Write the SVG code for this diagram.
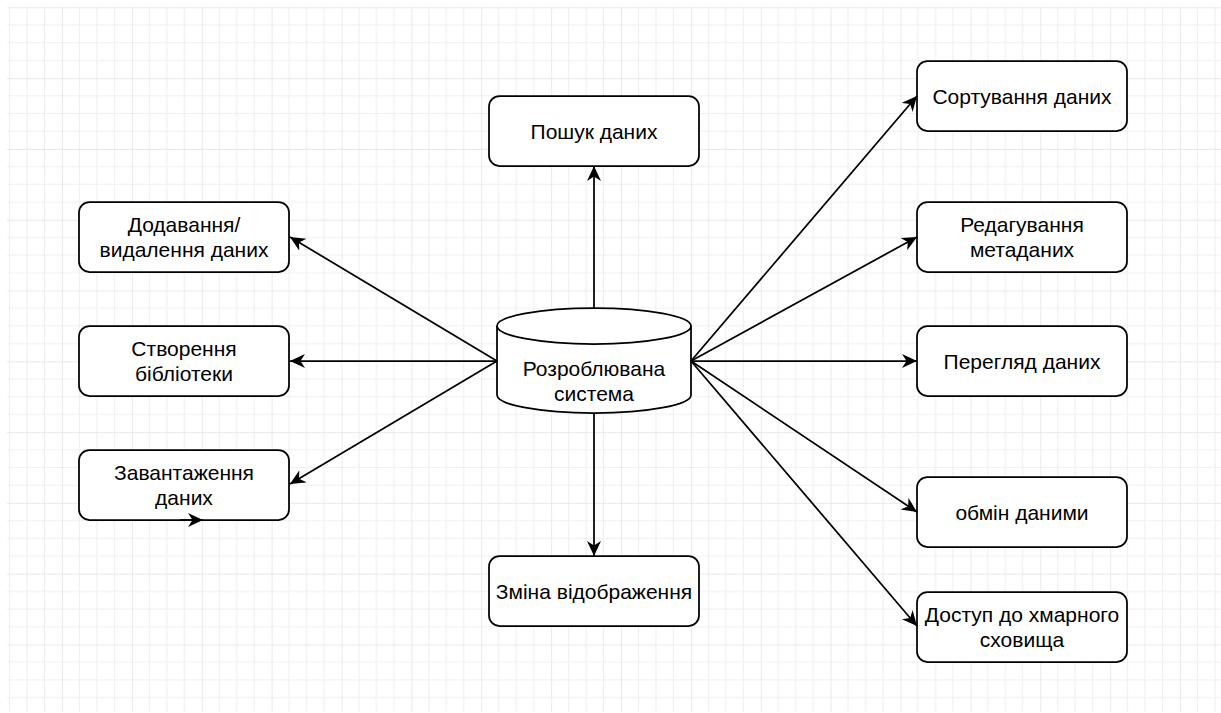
<svg xmlns="http://www.w3.org/2000/svg" width="1221" height="713" viewBox="0 0 1221 713">
  <defs>
    <!-- background grid: 4 minor cells per major cell -->
    <pattern id="grid" patternUnits="userSpaceOnUse" x="-7.875" y="7.3" width="69.875" height="70.8">
      <g stroke="#f0f0f0" stroke-width="1.2" fill="none">
        <line x1="17.47" y1="0" x2="17.47" y2="70.8"/>
        <line x1="34.94" y1="0" x2="34.94" y2="70.8"/>
        <line x1="52.4" y1="0" x2="52.4" y2="70.8"/>
        <line x1="0" y1="17.7" x2="69.875" y2="17.7"/>
        <line x1="0" y1="35.4" x2="69.875" y2="35.4"/>
        <line x1="0" y1="53.1" x2="69.875" y2="53.1"/>
      </g>
      <g stroke="#e3e3e3" stroke-width="1.5" fill="none">
        <line x1="0" y1="0" x2="0" y2="70.8"/>
        <line x1="0" y1="0" x2="69.875" y2="0"/>
      </g>
    </pattern>
    <marker id="arrow" markerUnits="userSpaceOnUse" markerWidth="17" markerHeight="15" refX="15" refY="7" orient="auto" viewBox="0 0 17 15">
      <path d="M0,0 L15,7 L0,14 L4.5,7 Z" fill="#000"/>
    </marker>
    <style>
      .box { fill: #ffffff; stroke: #000000; stroke-width: 1.75; }
      .lbl { font-family: "Liberation Sans", Arial, Helvetica, sans-serif; font-size: 21px; fill: #000000; text-anchor: middle; }
      .edge { stroke: #000000; stroke-width: 1.75; fill: none; marker-end: url(#arrow); }
    </style>
  </defs>

  <rect x="0" y="0" width="1221" height="713" fill="#ffffff"/>
  <rect x="7" y="7" width="1214" height="705" fill="url(#grid)"/>

  <!-- central store -->
  <g id="system">
    <path class="box" d="M497,326 A97,18 0 0 1 691,326 L691,395 A97,18 0 0 1 497,395 Z"/>
    <path class="box" fill="none" d="M497,326 A97,18 0 0 0 691,326"/>
    <text class="lbl" x="594" y="375.5">Розроблювана</text>
    <text class="lbl" x="594" y="400.5">система</text>
  </g>

  <g id="search">
    <rect class="box" x="489" y="96" width="210" height="70" rx="10.5"/>
    <text class="lbl" x="594" y="138.5">Пошук даних</text>
  </g>

  <g id="view-change">
    <rect class="box" x="489" y="556" width="210" height="70" rx="10.5"/>
    <text class="lbl" x="594" y="598.5">Зміна відображення</text>
  </g>

  <g id="add-remove">
    <rect class="box" x="79" y="202" width="210" height="70" rx="10.5"/>
    <text class="lbl" x="184" y="232">Додавання/</text>
    <text class="lbl" x="184" y="257">видалення даних</text>
  </g>

  <g id="library">
    <rect class="box" x="79" y="326" width="210" height="70" rx="10.5"/>
    <text class="lbl" x="184" y="356">Створення</text>
    <text class="lbl" x="184" y="381">бібліотеки</text>
  </g>

  <g id="upload">
    <rect class="box" x="79" y="450" width="210" height="70" rx="10.5"/>
    <text class="lbl" x="184" y="480">Завантаження</text>
    <text class="lbl" x="184" y="505">даних</text>
  </g>

  <g id="sort">
    <rect class="box" x="917" y="61" width="210" height="70" rx="10.5"/>
    <text class="lbl" x="1022" y="103.5">Сортування даних</text>
  </g>

  <g id="metadata">
    <rect class="box" x="917" y="202" width="210" height="70" rx="10.5"/>
    <text class="lbl" x="1022" y="232">Редагування</text>
    <text class="lbl" x="1022" y="257">метаданих</text>
  </g>

  <g id="browse">
    <rect class="box" x="917" y="326" width="210" height="70" rx="10.5"/>
    <text class="lbl" x="1022" y="368.5">Перегляд даних</text>
  </g>

  <g id="exchange">
    <rect class="box" x="917" y="477" width="210" height="70" rx="10.5"/>
    <text class="lbl" x="1022" y="519.5">обмін даними</text>
  </g>

  <g id="cloud">
    <rect class="box" x="917" y="592" width="210" height="70" rx="10.5"/>
    <text class="lbl" x="1022" y="622">Доступ до хмарного</text>
    <text class="lbl" x="1022" y="647">сховища</text>
  </g>

  <!-- connectors -->
  <g id="edges">
    <line class="edge" x1="594" y1="308" x2="594" y2="166"/>
    <line class="edge" x1="594" y1="413" x2="594" y2="556"/>
    <line class="edge" x1="497" y1="361" x2="290" y2="237"/>
    <line class="edge" x1="497" y1="361" x2="290" y2="361"/>
    <line class="edge" x1="497" y1="361" x2="290" y2="484"/>
    <line class="edge" x1="691" y1="361" x2="917" y2="96"/>
    <line class="edge" x1="691" y1="361" x2="917" y2="237"/>
    <line class="edge" x1="691" y1="361" x2="917" y2="361"/>
    <line class="edge" x1="691" y1="361" x2="917" y2="512"/>
    <line class="edge" x1="691" y1="361" x2="917" y2="626"/>
    <line class="edge" x1="180" y1="520" x2="203" y2="520"/>
  </g>
</svg>
